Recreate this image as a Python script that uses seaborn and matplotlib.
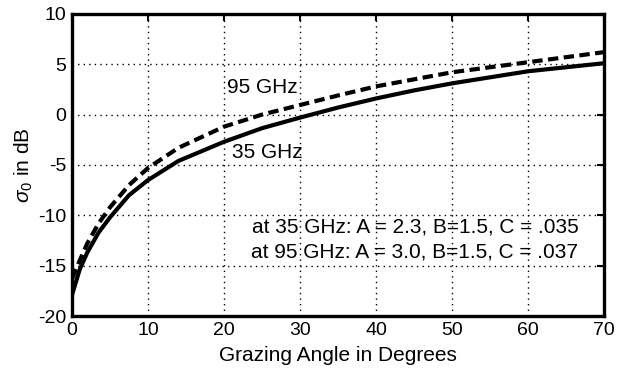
import numpy as np
import pandas as pd
import seaborn as sns
import matplotlib
matplotlib.use("Agg")
import matplotlib.pyplot as plt

# Grazing angles (degrees) and backscatter coefficient (dB)
angles = [0, 1, 2, 3.5, 5, 7.5, 10, 14, 20, 25, 30, 35, 40, 45, 50, 55, 60, 65, 70]
sigma_35 = [-17.9, -15.4, -13.7, -11.7, -10.2, -8.0, -6.5, -4.6, -2.7, -1.35, -0.3,
            0.7, 1.6, 2.4, 3.1, 3.7, 4.3, 4.7, 5.1]
sigma_95 = [-16.3, -14.5, -12.8, -10.8, -9.2, -7.0, -5.3, -3.3, -1.2, 0.0, 0.95,
            1.9, 2.8, 3.5, 4.2, 4.7, 5.2, 5.7, 6.2]
bands = ["35 GHz", "95 GHz"]

x_ticks = [0, 10, 20, 30, 40, 50, 60, 70]
y_ticks = [-20, -15, -10, -5, 0, 5, 10]

df = pd.DataFrame({
    "angle": angles * 2,
    "sigma": sigma_35 + sigma_95,
    "band": [bands[0]] * len(angles) + [bands[1]] * len(angles),
})

sns.set_theme(style="white")
plt.rcParams["font.family"] = ["Liberation Sans", "DejaVu Sans"]
plt.rcParams["text.color"] = "black"
plt.rcParams["axes.labelcolor"] = "black"
plt.rcParams["axes.unicode_minus"] = False
plt.rcParams["mathtext.fontset"] = "custom"
plt.rcParams["mathtext.rm"] = "Liberation Sans"
plt.rcParams["mathtext.it"] = "Liberation Sans:italic"

fig = plt.figure(figsize=(6.21, 3.74), dpi=100)
ax = fig.add_axes([0.116, 0.155, 0.857, 0.808])

sns.lineplot(data=df, x="angle", y="sigma", style="band",
             style_order=bands, dashes={bands[0]: "", bands[1]: (2.5, 1.3)},
             color="black", linewidth=3.0, legend=False, ax=ax)

ax.set_xlim(0, 70)
ax.set_ylim(-20, 10)
ax.set_xticks(x_ticks)
ax.set_yticks(y_ticks)
ax.grid(True, color="black", linestyle=(0, (1, 3)), linewidth=1.0)
ax.tick_params(direction="in", length=5, width=1.5, colors="black",
               labelsize=14, top=True, right=True)
ax.tick_params(axis="x", pad=4)
ax.tick_params(axis="y", pad=4)
for s in ax.spines.values():
    s.set_visible(True)
    s.set_color("black")
    s.set_linewidth(2.4)

ax.set_xlabel("Grazing Angle in Degrees", fontsize=15, color="black", labelpad=5)
ax.set_ylabel(r"$\sigma_0$ in dB", fontsize=15, color="black", labelpad=2)

ax.text(20.4, 2.7, "95 GHz", fontsize=15, color="black", ha="left", va="center")
ax.text(21.1, -3.8, "35 GHz", fontsize=15, color="black", ha="left", va="center")
ax.text(66.6, -11.2, "at 35 GHz: A = 2.3, B=1.5, C = .035", fontsize=15,
        color="black", ha="right", va="center")
ax.text(66.6, -13.6, "at 95 GHz: A = 3.0, B=1.5, C = .037", fontsize=15,
        color="black", ha="right", va="center")

fig.savefig("out.png", dpi=100, facecolor="white")
